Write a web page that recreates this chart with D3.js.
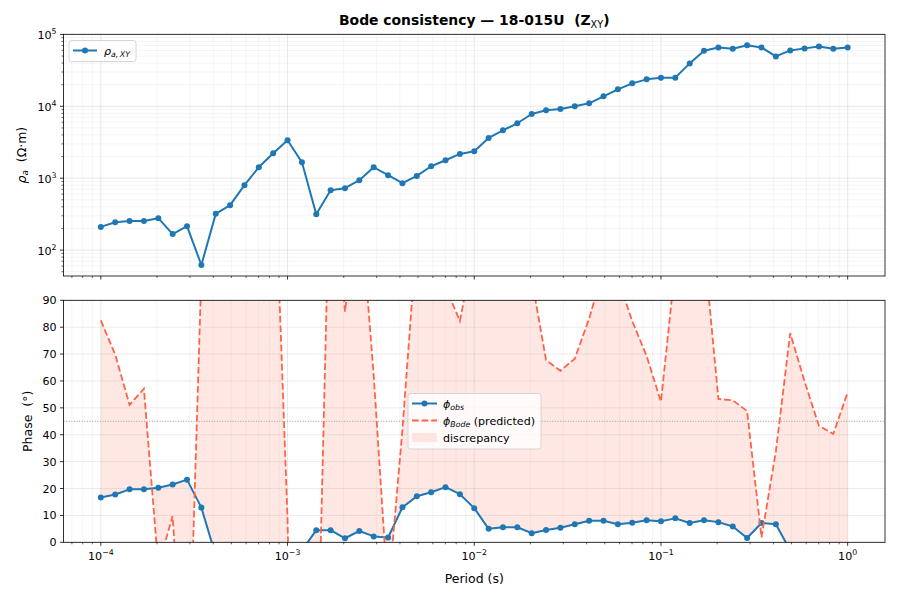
<!DOCTYPE html>
<html><head><meta charset="utf-8">
<script src="https://cdn.jsdelivr.net/npm/d3@7"></script>
<style>
body{margin:0;background:#fff}
text{font-family:"DejaVu Sans",sans-serif;white-space:pre}
</style>
</head><body>
<svg id="c" width="900" height="600" xmlns="http://www.w3.org/2000/svg"></svg>
<script>
// ---------------- data ----------------
const periods = [
  1.000e-4,1.194e-4,1.425e-4,1.701e-4,2.031e-4,2.424e-4,2.894e-4,3.455e-4,4.125e-4,4.924e-4,5.878e-4,7.017e-4,8.377e-4,
  1.000e-3,1.194e-3,1.425e-3,1.701e-3,2.031e-3,2.424e-3,2.894e-3,3.455e-3,4.125e-3,4.924e-3,5.878e-3,7.017e-3,8.377e-3,
  1.000e-2,1.194e-2,1.425e-2,1.701e-2,2.031e-2,2.424e-2,2.894e-2,3.455e-2,4.125e-2,4.924e-2,5.878e-2,7.017e-2,8.377e-2,
  1.000e-1,1.194e-1,1.425e-1,1.701e-1,2.031e-1,2.424e-1,2.894e-1,3.455e-1,4.125e-1,4.924e-1,5.878e-1,7.017e-1,8.377e-1,
  1.000
];
const rhoXY = [
  210,244,253,254,278,167,215,62,319,422,800,1420,2220,
  3370,1670,316,681,726,938,1420,1100,853,1077,1468,1778,2178,
  2371,3631,4642,5807,7816,8799,9180,10000,11000,13770,17230,20850,23710,
  25050,25050,39550,59430,65900,63260,70600,65900,49450,59950,63950,68130,63260,
  65900
];
const phiObs = [
  16.7,17.8,19.7,19.7,20.3,21.5,23.3,12.9,-5,-12,-15,-14,-10,
  -8,-3,4.5,4.5,1.5,4.2,2.2,1.8,13.0,17.1,18.6,20.5,17.9,
  12.7,5.0,5.6,5.6,3.4,4.6,5.4,6.7,8.0,8.0,6.7,7.3,8.2,
  7.8,8.9,7.2,8.2,7.5,5.9,1.6,7.2,6.7,-3,-8,-12,-10,
  -9
];
const phiBode = [
  82.5,69.8,51.1,57.1,-9,9.8,-75,100,289,162,199,175,155,
  8.6,-256,-69,151,85.8,130,62,-20,42,114,109,95,82.3,
  110,130,105,111,98,67.8,63.8,68.3,83.2,102,98,82.3,69.3,
  52.3,103,155,110,53.3,52.8,48.8,1.8,33.8,77.8,59.8,43.3,40.3,
  55.8
];
const rhoMajorTicks = [1e2,1e3,1e4,1e5];
const periodMajorTicks = [1e-4,1e-3,1e-2,1e-1,1];
const phaseTicks = [0,10,20,30,40,50,60,70,80,90];

// ---------------- layout ----------------
const L = 63.5, R = 885;
const T1 = 34.3, B1 = 276;
const T2 = 300.3, B2 = 542.3;
const blue = "#1f77b4", red = "tomato";
const gridCol = "#b0b0b0";

const svg = d3.select("#c");

const lx = d3.extent(periods, d => Math.log10(d));
const mx = (lx[1]-lx[0])*0.05;
const x = d3.scaleLog().domain([10**(lx[0]-mx), 10**(lx[1]+mx)]).range([L, R]);
const ly = d3.extent(rhoXY, d => Math.log10(d));
const my = (ly[1]-ly[0])*0.05;
const y1 = d3.scaleLog().domain([10**(ly[0]-my), 10**(ly[1]+my)]).range([B1, T1]);
const y2 = d3.scaleLinear().domain([0, 90]).range([B2, T2]);

const inDom = (s, v) => v >= s.domain()[0]*0.999 && v <= s.domain()[1]*1.001;
const expo = v => { const e = Math.round(Math.log10(v)); return e < 0 ? "−" + (-e) : String(e); };

function minorTicks(scale) {
  const [a, b] = scale.domain();
  const out = [];
  for (let k = Math.floor(Math.log10(a)) - 1; k <= Math.ceil(Math.log10(b)); k++) {
    for (let m = 2; m <= 9; m++) {
      const v = m * 10**k;
      if (v >= a && v <= b) out.push(v);
    }
  }
  return out;
}
const xMinor = minorTicks(x);
const y1Minor = minorTicks(y1);
const xMajorIn = periodMajorTicks.filter(v => inDom(x, v));
const y1MajorIn = rhoMajorTicks.filter(v => inDom(y1, v));

const defs = svg.append("defs");
defs.append("clipPath").attr("id","clip1").append("rect").attr("x",L).attr("y",T1).attr("width",R-L).attr("height",B1-T1);
defs.append("clipPath").attr("id","clip2").append("rect").attr("x",L).attr("y",T2).attr("width",R-L).attr("height",B2-T2);

// ---------------- grids ----------------
function vgrid(g, vals, top, bot, op, w) {
  g.selectAll(null).data(vals).enter().append("line")
    .attr("x1", d => x(d)).attr("x2", d => x(d)).attr("y1", top).attr("y2", bot)
    .attr("stroke", gridCol).attr("stroke-opacity", op).attr("stroke-width", w);
}
function hgrid(g, scale, vals, op, w) {
  g.selectAll(null).data(vals).enter().append("line")
    .attr("x1", L).attr("x2", R).attr("y1", d => scale(d)).attr("y2", d => scale(d))
    .attr("stroke", gridCol).attr("stroke-opacity", op).attr("stroke-width", w);
}
const g1 = svg.append("g");
vgrid(g1, xMinor, T1, B1, 0.22, 0.6);
vgrid(g1, xMajorIn, T1, B1, 0.35, 0.8);
hgrid(g1, y1, y1Minor, 0.22, 0.6);
hgrid(g1, y1, y1MajorIn, 0.35, 0.8);

const g2 = svg.append("g");
vgrid(g2, xMinor, T2, B2, 0.22, 0.6);
vgrid(g2, xMajorIn, T2, B2, 0.35, 0.8);
hgrid(g2, y2, phaseTicks, 0.3, 0.8);

// ---------------- top panel: rho ----------------
const p1 = svg.append("g").attr("clip-path","url(#clip1)");
p1.append("path")
  .datum(periods.map((p,i) => [p, rhoXY[i]]))
  .attr("d", d3.line().x(d => x(d[0])).y(d => y1(d[1])))
  .attr("fill","none").attr("stroke",blue).attr("stroke-width",2).attr("stroke-linejoin","round");
p1.selectAll("circle").data(periods.map((p,i) => [p, rhoXY[i]])).enter().append("circle")
  .attr("cx", d => x(d[0])).attr("cy", d => y1(d[1])).attr("r", 3).attr("fill", blue);

// ---------------- bottom panel: phase ----------------
const p2 = svg.append("g").attr("clip-path","url(#clip2)");
const ph = periods.map((p,i) => ({p, o: phiObs[i], b: phiBode[i]}));
p2.append("path").datum(ph)
  .attr("d", d3.area().x(d => x(d.p)).y0(d => y2(d.o)).y1(d => y2(d.b)))
  .attr("fill", red).attr("fill-opacity", 0.15);
p2.append("line").attr("x1",L).attr("x2",R).attr("y1",y2(45)).attr("y2",y2(45))
  .attr("stroke","#808080").attr("stroke-width",0.8).attr("stroke-dasharray","1,1.6");
p2.append("path").datum(ph)
  .attr("d", d3.line().x(d => x(d.p)).y(d => y2(d.o)))
  .attr("fill","none").attr("stroke",blue).attr("stroke-width",2).attr("stroke-linejoin","round");
p2.selectAll("circle").data(ph).enter().append("circle")
  .attr("cx", d => x(d.p)).attr("cy", d => y2(d.o)).attr("r", 3).attr("fill", blue);
p2.append("path").datum(ph)
  .attr("d", d3.line().x(d => x(d.p)).y(d => y2(d.b)))
  .attr("fill","none").attr("stroke",red).attr("stroke-width",1.8).attr("stroke-dasharray","6.7,2.9");

// ---------------- frames & ticks ----------------
function frame(top, bot) {
  svg.append("rect").attr("x",L).attr("y",top).attr("width",R-L).attr("height",bot-top)
    .attr("fill","none").attr("stroke","#000").attr("stroke-width",0.8);
}
frame(T1,B1); frame(T2,B2);

function xticks(yb, labels) {
  const g = svg.append("g");
  g.selectAll(null).data(xMinor).enter().append("line")
    .attr("x1", d => x(d)).attr("x2", d => x(d)).attr("y1", yb).attr("y2", yb+2)
    .attr("stroke","#000").attr("stroke-width",0.6);
  g.selectAll(null).data(xMajorIn).enter().append("line")
    .attr("x1", d => x(d)).attr("x2", d => x(d)).attr("y1", yb).attr("y2", yb+3.5)
    .attr("stroke","#000").attr("stroke-width",0.8);
  if (labels) {
    xMajorIn.forEach(v => {
      const t = g.append("text").attr("x", x(v)).attr("y", yb+17.2).attr("text-anchor","middle")
        .attr("font-size", 11.1).attr("fill","#000");
      t.append("tspan").text("10");
      t.append("tspan").attr("dy", -4.6).attr("font-size", 7.8).text(expo(v));
    });
  }
}
xticks(B1, false);
xticks(B2, true);

// y ticks top
{
  const g = svg.append("g");
  g.selectAll(null).data(y1Minor).enter().append("line")
    .attr("x1", L-2).attr("x2", L).attr("y1", d => y1(d)).attr("y2", d => y1(d))
    .attr("stroke","#000").attr("stroke-width",0.6);
  g.selectAll(null).data(y1MajorIn).enter().append("line")
    .attr("x1", L-3.5).attr("x2", L).attr("y1", d => y1(d)).attr("y2", d => y1(d))
    .attr("stroke","#000").attr("stroke-width",0.8);
  y1MajorIn.forEach(v => {
    const t = g.append("text").attr("x", L-7).attr("y", y1(v)+4.5).attr("text-anchor","end")
      .attr("font-size", 11.1).attr("fill","#000");
    t.append("tspan").text("10");
    t.append("tspan").attr("dy", -4.6).attr("font-size", 7.8).text(expo(v));
  });
}
// y ticks bottom
{
  const g = svg.append("g");
  g.selectAll(null).data(phaseTicks).enter().append("line")
    .attr("x1", L-3.5).attr("x2", L).attr("y1", d => y2(d)).attr("y2", d => y2(d))
    .attr("stroke","#000").attr("stroke-width",0.8);
  g.selectAll(null).data(phaseTicks).enter().append("text")
    .attr("x", L-7).attr("y", d => y2(d)+4).attr("text-anchor","end")
    .attr("font-size", 11.1).attr("fill","#000").text(d => String(d));
}

// ---------------- labels ----------------
{
  const t = svg.append("text").attr("x", (L+R)/2).attr("y", 25).attr("text-anchor","middle")
    .attr("font-size", 13.9).attr("font-weight","bold").attr("fill","#000");
  t.append("tspan").text("Bode consistency — 18-015U  (Z");
  t.append("tspan").attr("dy", 2.6).attr("font-size", 9.7).attr("font-weight","normal").text("XY");
  t.append("tspan").attr("dy", -2.6).text(")");
}
svg.append("text").attr("x",(L+R)/2).attr("y",582.5).attr("text-anchor","middle")
  .attr("font-size",12.5).attr("fill","#000").text("Period (s)");
{
  const t = svg.append("text").attr("transform",`translate(25.5,${(T1+B1)/2}) rotate(-90)`)
    .attr("text-anchor","middle").attr("font-size",12.5).attr("fill","#000");
  t.append("tspan").attr("font-style","italic").text("ρ");
  t.append("tspan").attr("dy",2.5).attr("font-size",8.8).attr("font-style","italic").text("a");
  t.append("tspan").attr("dy",-2.5).text("  (Ω·m)");
}
svg.append("text").attr("transform",`translate(32,${(T2+B2)/2}) rotate(-90)`)
  .attr("text-anchor","middle").attr("font-size",12.5).attr("fill","#000").text("Phase  (°)");

// ---------------- legends ----------------
function legendBox(x0, y0, w, h) {
  svg.append("rect").attr("x",x0).attr("y",y0).attr("width",w).attr("height",h).attr("rx",2.5)
    .attr("fill","#fff").attr("fill-opacity",0.8).attr("stroke","#cccccc").attr("stroke-width",0.8);
}
legendBox(69, 40.5, 67, 21);
svg.append("line").attr("x1",73).attr("x2",97).attr("y1",50.5).attr("y2",50.5).attr("stroke",blue).attr("stroke-width",2);
svg.append("circle").attr("cx",85).attr("cy",50.5).attr("r",3).attr("fill",blue);
{
  const t = svg.append("text").attr("x",104).attr("y",54.5).attr("font-size",11.1).attr("fill","#000");
  t.append("tspan").attr("font-style","italic").text("ρ");
  t.append("tspan").attr("dy",2.4).attr("font-size",7.8).attr("font-style","italic").text("a,\u2009XY");
}
legendBox(408, 393.5, 133, 55.5);
svg.append("line").attr("x1",412).attr("x2",437).attr("y1",403.5).attr("y2",403.5).attr("stroke",blue).attr("stroke-width",2);
svg.append("circle").attr("cx",424.5).attr("cy",403.5).attr("r",3).attr("fill",blue);
{
  const t = svg.append("text").attr("x",443).attr("y",407.5).attr("font-size",11.1).attr("fill","#000");
  t.append("tspan").attr("font-style","italic").text("ϕ");
  t.append("tspan").attr("dy",2.4).attr("font-size",7.8).attr("font-style","italic").text("obs");
}
svg.append("line").attr("x1",412).attr("x2",437).attr("y1",420.5).attr("y2",420.5).attr("stroke",red).attr("stroke-width",1.8).attr("stroke-dasharray","6.7,2.9");
{
  const t = svg.append("text").attr("x",443).attr("y",424.5).attr("font-size",11.1).attr("fill","#000");
  t.append("tspan").attr("font-style","italic").text("ϕ");
  t.append("tspan").attr("dy",2.4).attr("font-size",7.8).attr("font-style","italic").text("Bode");
  t.append("tspan").attr("dy",-2.4).text(" (predicted)");
}
svg.append("rect").attr("x",412).attr("y",433).attr("width",25).attr("height",9).attr("fill",red).attr("fill-opacity",0.15);
svg.append("text").attr("x",443).attr("y",441.5).attr("font-size",11.1).attr("fill","#000").text("discrepancy");
</script>
</body></html>
